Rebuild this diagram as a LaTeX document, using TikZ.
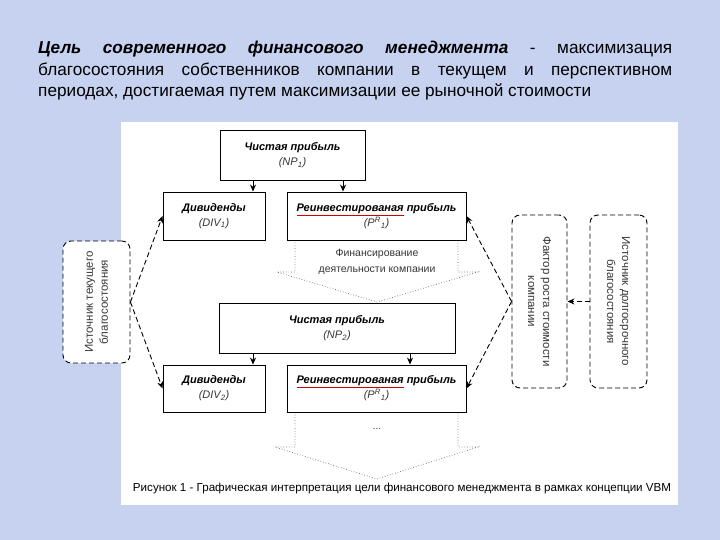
\documentclass[tikz,border=0pt]{standalone}
\usepackage{fontspec}
\setmainfont{Liberation Sans}
\usetikzlibrary{arrows.meta}
\definecolor{bgblue}{RGB}{198,210,240}
\definecolor{txtgray}{RGB}{55,55,55}
\definecolor{dotgray}{RGB}{110,110,110}
\newcommand{\redul}[1]{\textcolor{red!80!black}{$\underline{\hbox{\color{black}#1}}$}}
\begin{document}
\begin{tikzpicture}[x=1pt,y=-1pt,
  solidbox/.style={draw=black, line width=0.9pt, fill=white, inner sep=0pt, align=center,
    font=\fontsize{11}{15}\selectfont},
  dashbox/.style={draw=black, line width=0.9pt, dash pattern=on 5pt off 3pt, rounded corners=8pt, fill=white, inner sep=0pt},
  sidetext/.style={align=center, font=\fontsize{11.5}{15}\selectfont, text=txtgray, inner sep=0pt},
  arr/.style={line width=0.9pt, -{Stealth[length=7pt,width=6pt]}},
  dasharr/.style={line width=0.9pt, dash pattern=on 5pt off 3pt, -{Stealth[length=7pt,width=6pt]}},
  blockarr/.style={draw=dotgray, line width=0.7pt, dotted, fill=white},
  ]
\useasboundingbox (0,0) rectangle (720,540);
\fill[bgblue] (0,0) rectangle (720,540);
\fill[white] (121,122) rectangle (678,505);

% title
\node[anchor=north west, inner sep=0pt, text width=634pt, align=justify,
  font=\fontsize{17.2}{21.5}\selectfont] (title) at (38,41)
  {\textbf{\textit{Цель современного финансового менеджмента}} - максимизация\linebreak благосостояния собственников компании в текущем и перспективном\linebreak периодах, достигаемая путем максимизации ее рыночной стоимости};

% block arrows
\draw[blockarr] (295,240) -- (295,272) -- (277,272) -- (377,302) -- (478,272) -- (458,272) -- (458,240);
\node[font=\fontsize{10.5}{16}\selectfont, text=txtgray, align=center, inner sep=0pt] (fin) at (377,262)
  {Финансирование\\деятельности компании};
\draw[blockarr] (295,412) -- (295,447) -- (275,447) -- (377,479) -- (478,447) -- (458,447) -- (458,412);
\node[font=\fontsize{10}{12}\selectfont, text=txtgray, inner sep=0pt] (dots) at (377,429) {...};

% boxes
\node[solidbox, minimum width=145pt, minimum height=50pt] (np1) at (292.5,155)
  {\textbf{\textit{Чистая прибыль}}\\ \textcolor{txtgray}{\textit{(NP\textsubscript{1})}}};
\node[solidbox, minimum width=102pt, minimum height=48pt] (div1) at (214,216)
  {\textbf{\textit{Дивиденды}}\\ \textcolor{txtgray}{\textit{(DIV\textsubscript{1})}}};
\node[solidbox, minimum width=179pt, minimum height=48pt] (re1) at (376.5,216)
  {\textbf{\textit{\redul{Реинвестированая} прибыль}}\\ \textcolor{txtgray}{\textit{(P\textsuperscript{R}\textsubscript{1})}}};
\node[solidbox, minimum width=236pt, minimum height=50pt] (np2) at (337,328)
  {\textbf{\textit{Чистая прибыль}}\\ \textcolor{txtgray}{\textit{(NP\textsubscript{2})}}};
\node[solidbox, minimum width=102pt, minimum height=47pt] (div2) at (214,388.5)
  {\textbf{\textit{Дивиденды}}\\ \textcolor{txtgray}{\textit{(DIV\textsubscript{2})}}};
\node[solidbox, minimum width=179pt, minimum height=47pt] (re2) at (376.5,388.5)
  {\textbf{\textit{\redul{Реинвестированая} прибыль}}\\ \textcolor{txtgray}{\textit{(P\textsuperscript{R}\textsubscript{1})}}};

\coordinate (xa) at (253,0);
\coordinate (xb) at (343,0);
\coordinate (xc) at (410,0);
\draw[arr] (np1.south -| xa) -- (div1.north -| xa);
\draw[arr] (np1.south -| xb) -- (re1.north -| xb);
\draw[arr] (np2.south -| xa) -- (div2.north -| xa);
\draw[arr] (np2.south -| xc) -- (re2.north -| xc);

% side boxes
\node[dashbox, minimum width=67pt, minimum height=122pt] (cur) at (96.5,302) {};
\node[sidetext, rotate=90] (curt) at (cur.center) {Источник текущего\\благосостояния};
\node[dashbox, minimum width=55pt, minimum height=173pt] (fac) at (539.5,301.5) {};
\node[sidetext, rotate=-90] (fact) at (fac.center) {Фактор роста стоимости\\компании};
\node[dashbox, minimum width=57pt, minimum height=173pt] (lng) at (618.5,301.5) {};
\node[sidetext, rotate=-90] (lngt) at (lng.center) {Источник долгосрочного\\благосостояния};

\draw[dasharr] (cur.east) -- (div1.west);
\draw[dasharr] (cur.east) -- (div2.west);
\draw[dasharr] (fac.west) -- (re1.east);
\draw[dasharr] (fac.west) -- (re2.east);
\draw[dasharr] (lng.west) -- (fac.east);

% caption
\node[inner sep=0pt, font=\fontsize{12}{14}\selectfont, anchor=base] (cap) at (402,491)
  {\resizebox{538pt}{!}{Рисунок 1 - Графическая интерпретация цели финансового менеджмента в рамках концепции VBM}};
\end{tikzpicture}
\end{document}
